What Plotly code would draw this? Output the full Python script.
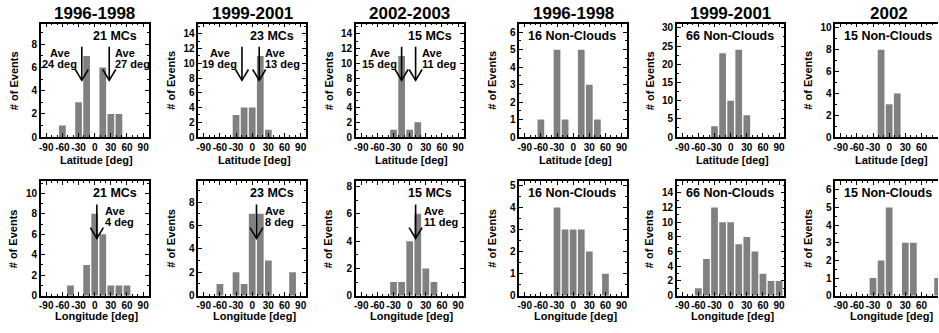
import plotly.graph_objects as go

# ---------------- data ----------------
bin_centers = [-90, -75, -60, -45, -30, -15, 0, 15, 30, 45, 60, 75, 90]

lat_mc_1996_1998 = [0, 0, 1, 0, 3, 7, 0, 6, 2, 2, 0, 0, 0]
lat_mc_1999_2001 = [0, 0, 0, 0, 3, 4, 4, 11, 1, 0, 0, 0, 0]
lat_mc_2002_2003 = [0, 0, 0, 0, 1, 11, 1, 2, 0, 0, 0, 0, 0]
lat_nc_1996_1998 = [0, 0, 1, 0, 5, 1, 0, 5, 3, 1, 0, 0, 0]
lat_nc_1999_2001 = [0, 0, 0, 0, 3, 23, 10, 24, 6, 0, 0, 0, 0]
lat_nc_2002 = [0, 0, 0, 0, 0, 8, 3, 4, 0, 0, 0, 0, 0]

lon_mc_1996_1998 = [0, 0, 0, 1, 0, 3, 8, 6, 1, 1, 1, 0, 0]
lon_mc_1999_2001 = [0, 0, 1, 0, 2, 1, 7, 7, 3, 0, 0, 2, 0]
lon_mc_2002_2003 = [0, 0, 0, 0, 1, 1, 4, 6, 2, 1, 0, 0, 0]
lon_nc_1996_1998 = [0, 0, 0, 0, 4, 3, 3, 3, 2, 0, 1, 0, 0]
lon_nc_1999_2001 = [0, 0, 1, 5, 12, 10, 10, 7, 8, 6, 3, 2, 2]
lon_nc_2002 = [0, 0, 0, 0, 1, 2, 5, 0, 3, 3, 0, 0, 1]

col_titles = ["1996-1998", "1999-2001", "2002-2003", "1996-1998", "1999-2001", "2002"]
count_labels = ["21 MCs", "23 MCs", "15 MCs", "16 Non-Clouds", "66 Non-Clouds", "15 Non-Clouds"]
x_tick_vals = [-90, -60, -30, 0, 30, 60, 90]
x_tick_text = ["-90", "-60", "-30", "0", "30", "60", "90"]
y_title = "# of Events"
row_xlabels = ["Latitude [deg]", "Longitude [deg]"]

# average values (deg), signed by hemisphere
ave_lat_mc = [[-24, 27], [-19, 13], [-15, 11]]
ave_lon_mc = [[4], [8], [11]]

all_counts = [
    lat_mc_1996_1998, lat_mc_1999_2001, lat_mc_2002_2003,
    lat_nc_1996_1998, lat_nc_1999_2001, lat_nc_2002,
    lon_mc_1996_1998, lon_mc_1999_2001, lon_mc_2002_2003,
    lon_nc_1996_1998, lon_nc_1999_2001, lon_nc_2002,
]
all_aves = ave_lat_mc + [[], [], []] + ave_lon_mc + [[], [], []]

# ---------------- style / layout ----------------
W, H = 939, 333
lefts = [39, 197, 355, 519, 677, 836]
pw = 108
rows_px = [(23, 139), (184, 301)]
px_per_deg = pw / 200.0
ytick_steps = [2, 2, 2, 1, 5, 2, 2, 2, 2, 1, 2, 1]
FONT = "Liberation Sans, Arial, Helvetica, sans-serif"
BAR = "#808080"

fig = go.Figure()
annotations = []
layout_axes = {}

for i in range(12):
    n = i + 1
    row = 0 if i < 6 else 1
    col = i % 6
    counts = all_counts[i]
    is_mc = col < 3
    ymax = max(counts) * (1.4 if is_mc else 1.3)
    left = lefts[col]
    right = min(left + pw, W)
    top, bot = rows_px[row]
    xdom = [left / W, right / W]
    ydom = [1 - bot / H, 1 - top / H]
    xr = [-100, -100 + (right - left) / px_per_deg]
    xa = "x" if n == 1 else f"x{n}"
    ya = "y" if n == 1 else f"y{n}"
    xkey = "xaxis" if n == 1 else f"xaxis{n}"
    ykey = "yaxis" if n == 1 else f"yaxis{n}"

    fig.add_trace(go.Bar(
        x=bin_centers, y=counts, width=12.5,
        marker=dict(color=BAR, line=dict(width=0)),
        xaxis=xa, yaxis=ya, showlegend=False, hoverinfo="skip",
    ))

    layout_axes[xkey] = dict(
        domain=xdom, range=xr, anchor=ya,
        tickmode="array", tickvals=x_tick_vals, ticktext=x_tick_text,
        tickangle=0,
        ticks="inside", ticklen=4, tickwidth=1, tickcolor="black",
        minor=dict(ticks="inside", dtick=10, ticklen=2, tickcolor="black"),
        showline=True, linecolor="black", linewidth=1.6, mirror="ticks",
        showgrid=False, zeroline=False,
        tickfont=dict(family=FONT, size=10, color="black", weight="bold"),
        fixedrange=True,
    )
    layout_axes[ykey] = dict(
        domain=ydom, range=[0, ymax], anchor=xa,
        dtick=ytick_steps[i], tick0=0, tickangle=0,
        ticks="inside", ticklen=4, tickwidth=1, tickcolor="black",
        minor=dict(ticks="inside", dtick=ytick_steps[i] / 2, ticklen=2, tickcolor="black"),
        showline=True, linecolor="black", linewidth=1.6,
        mirror=("ticks" if col < 5 else False),
        showgrid=False, zeroline=False,
        tickfont=dict(family=FONT, size=10, color="black", weight="bold"),
        fixedrange=True,
    )

    # y-axis title
    annotations.append(dict(
        text="<b>" + y_title + "</b>", textangle=-90,
        xref=f"{xa} domain", x=0, xshift=-27, xanchor="center",
        yref=f"{ya} domain", y=0.5, yanchor="middle",
        showarrow=False, font=dict(family=FONT, size=11, color="black"),
    ))
    # x-axis title
    annotations.append(dict(
        text="<b>" + row_xlabels[row] + "</b>",
        xref="paper", x=(left + pw / 2 + 2) / W, xanchor="center",
        yref="paper", y=1 - (bot + (23 if row == 0 else 21)) / H, yanchor="middle",
        showarrow=False, font=dict(family=FONT, size=11, color="black"),
    ))
    # column title
    if row == 0:
        annotations.append(dict(
            text="<b>" + col_titles[col] + "</b>",
            xref="paper", x=(left + pw / 2) / W, xanchor="center",
            yref="paper", y=1 - 12.5 / H, yanchor="middle",
            showarrow=False, font=dict(family=FONT, size=17, color="black"),
        ))
    # count label
    if is_mc:
        annotations.append(dict(
            text="<b>" + count_labels[col] + "</b>",
            xref="paper", x=(left + pw - 10) / W, xanchor="right",
            yref=f"{ya} domain", y=0.893, yanchor="middle",
            showarrow=False, font=dict(family=FONT, size=12.5, color="black"),
        ))
    else:
        annotations.append(dict(
            text="<b>" + count_labels[col] + "</b>",
            xref="paper", x=(left + 7) / W, xanchor="left",
            yref=f"{ya} domain", y=0.893, yanchor="middle",
            showarrow=False, font=dict(family=FONT, size=12.5, color="black"),
        ))

    # average arrows
    axis_h = bot - top
    units_per_px = ymax / axis_h
    for a in all_aves[i]:
        ytop = 0.795 * ymax
        ytip = 0.50 * ymax
        hw = 6.5 / px_per_deg
        hh = 11 * units_per_px
        fig.add_trace(go.Scatter(
            x=[a, a, None, a - hw, a, a + hw],
            y=[ytop, ytip, None, ytip + hh, ytip, ytip + hh],
            mode="lines", line=dict(color="black", width=1.6),
            xaxis=xa, yaxis=ya, showlegend=False, hoverinfo="skip",
            cliponaxis=False,
        ))
        if a < 0 and row == 0:
            xanchor, xshift = "center", -22
        else:
            xanchor = "left"
            xshift = 4 if row == 0 else 6
        for txt, fy in (("Ave", 0.742), (f"{abs(a)} deg", 0.642)):
            annotations.append(dict(
                text="<b>" + txt + "</b>",
                xref=xa, x=a, xshift=xshift, xanchor=xanchor,
                yref=f"{ya} domain", y=fy, yanchor="middle",
                showarrow=False, font=dict(family=FONT, size=11, color="black"),
            ))

fig.update_layout(
    width=W, height=H,
    margin=dict(l=0, r=0, t=0, b=0),
    paper_bgcolor="white", plot_bgcolor="white",
    font=dict(family=FONT, color="black", weight="bold"),
    annotations=annotations,
    showlegend=False,
    **layout_axes,
)

fig.write_html("out.html", config={"displayModeBar": False})
